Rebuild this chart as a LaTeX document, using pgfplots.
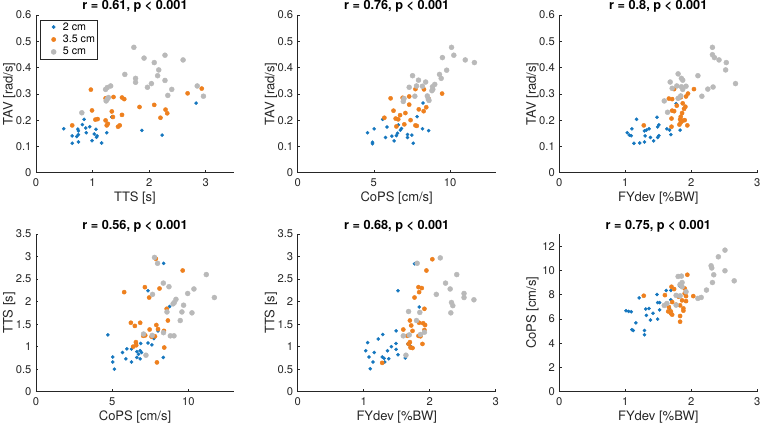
\documentclass[border=0pt]{standalone}
\usepackage{fontspec}
\setmainfont{TeX Gyre Heros}
\usepackage{pgfplots}
\pgfplotsset{compat=1.18}
\definecolor{cblue}{RGB}{20,118,190}
\definecolor{corange}{RGB}{238,128,30}
\definecolor{cgray}{RGB}{185,185,185}
\definecolor{axc}{RGB}{38,38,38}
\pgfplotsset{
 every axis title/.style={at={(0.5,1)}, anchor=base, yshift=5pt, font=\fontsize{12.7}{15}\selectfont\bfseries, text=black},
 every axis x label/.style={at={(axis description cs:0.5,-0.184)}, anchor=base, font=\fontsize{13}{15}\selectfont, text=axc},
 every axis y label/.style={at={(axis description cs:-0.118,0.5)}, rotate=90, anchor=base, font=\fontsize{13}{15}\selectfont, text=axc},
 base/.style={scale only axis, width=198pt, height=157.7pt,
  axis lines=left, axis line style={-, draw=axc, line width=0.55pt},
  tick style={draw=axc, line width=0.55pt}, tick align=inside, major tick length=2.5pt,
  tick label style={font=\fontsize{11.2}{13}\selectfont, text=axc},
  /pgf/number format/assume math mode=true,
  xticklabel style={anchor=base, yshift=-14pt},
  yticklabel style={anchor=east, xshift=-1pt},
  every axis plot/.append style={only marks},
 },
 sb/.style={mark=*, mark size=1.6pt, color=cblue},
 so/.style={mark=*, mark size=2.1pt, color=corange},
 sg/.style={mark=*, mark size=2.5pt, color=cgray},
}
\begin{document}
\begin{tikzpicture}
\path[use as bounding box] (0,0) rectangle (762pt,426pt);
% ---------- Plot 1
\begin{axis}[base, at={(36pt,253.3pt)}, anchor=south west,
  xmin=0, xmax=3.5, ymin=0, ymax=0.6, xtick={0,1,2,3}, ytick={0,0.1,0.2,0.3,0.4,0.5,0.6},
  xlabel={TTS [s]}, ylabel={TAV [rad/s]}, title={r = 0.61, p < 0.001},
  legend style={at={(0.02,0.97)}, anchor=north west, draw=axc, line width=0.5pt, inner sep=1.5pt, row sep=1.4pt,
    nodes={font=\fontsize{10.7}{12.5}\selectfont, inner sep=1pt, text=black}, cells={anchor=west}},
  legend image code/.code={\path[draw=none,fill=none] (0cm,-0.05cm) rectangle (0.71cm,0.05cm); \draw plot coordinates {(0.42cm,0cm)};}]
\addplot[sb] coordinates {(0.49,0.167)(0.64,0.140)(0.64,0.112)(0.74,0.166)(0.75,0.159)(0.72,0.138)(0.75,0.145)(0.75,0.117)(0.85,0.203)(0.82,0.183)(0.88,0.170)(0.89,0.152)(0.95,0.175)(0.99,0.122)(1.03,0.147)(1.06,0.165)(1.08,0.140)(1.07,0.135)(1.16,0.113)(1.25,0.152)(1.34,0.212)(1.87,0.161)(2.23,0.143)(2.83,0.265)};
\addplot[so] coordinates {(0.97,0.316)(0.64,0.180)(0.99,0.237)(1.05,0.202)(1.09,0.204)(1.23,0.283)(1.37,0.288)(1.52,0.286)(1.56,0.280)(1.34,0.233)(1.36,0.212)(1.23,0.199)(1.25,0.180)(1.27,0.186)(1.52,0.220)(1.48,0.180)(1.45,0.175)(1.83,0.250)(2.09,0.258)(2.29,0.240)(2.32,0.226)(2.20,0.209)(2.68,0.302)(2.93,0.320)};
\addplot[sg] coordinates {(1.73,0.477)(1.91,0.436)(2.28,0.447)(2.60,0.429)(2.09,0.419)(2.17,0.391)(1.57,0.374)(1.76,0.359)(1.76,0.344)(2.15,0.369)(2.28,0.351)(2.04,0.339)(1.97,0.325)(2.40,0.317)(2.33,0.294)(2.85,0.330)(2.96,0.291)(1.32,0.330)(1.26,0.324)(1.23,0.317)(1.26,0.280)(1.28,0.286)(1.24,0.273)(0.81,0.228)};
\legend{2 cm, 3.5 cm, 5 cm}
\end{axis}
% ---------- Plot 2
\begin{axis}[base, at={(297.7pt,253.3pt)}, anchor=south west,
  xmin=0, xmax=13, ymin=0, ymax=0.6, xtick={0,5,10}, ytick={0,0.1,0.2,0.3,0.4,0.5,0.6},
  xlabel={CoPS [cm/s]}, ylabel={TAV [rad/s]}, title={r = 0.76, p < 0.001}]
\addplot[sb] coordinates {(8.23,0.265)(5.58,0.203)(7.84,0.213)(5.02,0.167)(5.86,0.174)(6.61,0.182)(6.81,0.168)(6.74,0.162)(4.59,0.152)(6.55,0.150)(6.48,0.141)(6.18,0.139)(5.77,0.134)(7.21,0.145)(7.49,0.143)(7.21,0.134)(8.19,0.167)(8.60,0.160)(6.33,0.121)(4.91,0.116)(4.91,0.110)(7.59,0.112)};
\addplot[so] coordinates {(7.73,0.318)(8.29,0.317)(9.48,0.301)(6.10,0.283)(6.89,0.285)(6.96,0.282)(7.32,0.290)(8.44,0.249)(8.27,0.234)(7.95,0.241)(7.32,0.259)(6.29,0.236)(7.07,0.227)(6.72,0.219)(7.41,0.200)(6.60,0.203)(6.43,0.206)(5.69,0.209)(7.00,0.184)(7.73,0.180)(7.82,0.178)(6.48,0.176)(8.60,0.281)};
\addplot[sg] coordinates {(10.1,0.477)(10.25,0.447)(11.0,0.429)(11.6,0.419)(9.50,0.438)(9.78,0.390)(9.31,0.374)(9.42,0.359)(7.54,0.369)(7.93,0.352)(8.40,0.345)(9.0,0.336)(8.85,0.327)(8.87,0.317)(7.32,0.325)(7.80,0.330)(8.19,0.329)(8.51,0.292)(8.62,0.275)(7.69,0.291)(6.98,0.282)(6.93,0.271)(8.57,0.281)(8.81,0.312)};
\end{axis}
% ---------- Plot 3
\begin{axis}[base, at={(559.3pt,253.3pt)}, anchor=south west,
  xmin=0, xmax=3, ymin=0, ymax=0.6, xtick={0,1,2,3}, ytick={0,0.1,0.2,0.3,0.4,0.5,0.6},
  xlabel={FYdev [\%BW]}, ylabel={TAV [rad/s]}, title={r = 0.8, p < 0.001}]
\addplot[sb] coordinates {(1.77,0.263)(1.17,0.203)(1.48,0.211)(1.51,0.182)(1.49,0.174)(1.63,0.167)(1.67,0.162)(1.83,0.162)(1.69,0.145)(1.36,0.167)(1.29,0.159)(1.32,0.162)(1.10,0.167)(1.03,0.152)(1.06,0.143)(1.09,0.141)(1.30,0.140)(1.38,0.134)(1.51,0.141)(1.49,0.134)(1.43,0.121)(1.29,0.117)(1.22,0.113)(1.13,0.112)};
\addplot[so] coordinates {(2.04,0.318)(1.95,0.301)(1.92,0.290)(1.66,0.282)(1.71,0.280)(1.84,0.287)(1.74,0.318)(1.71,0.236)(1.74,0.234)(1.89,0.243)(1.91,0.251)(1.86,0.227)(1.84,0.213)(1.83,0.203)(1.87,0.198)(1.90,0.200)(1.94,0.180)(1.82,0.183)(1.84,0.191)(1.70,0.206)(1.70,0.175)(1.28,0.180)(1.78,0.255)(1.87,0.264)};
\addplot[sg] coordinates {(2.32,0.477)(2.32,0.449)(2.35,0.438)(2.42,0.429)(2.53,0.419)(2.52,0.391)(2.67,0.339)(2.33,0.326)(2.25,0.318)(2.10,0.369)(2.16,0.291)(1.80,0.376)(1.85,0.359)(1.87,0.352)(1.68,0.345)(1.78,0.330)(1.71,0.321)(1.85,0.327)(1.92,0.329)(1.87,0.317)(1.80,0.283)(1.84,0.292)(1.59,0.273)(1.64,0.230)};
\end{axis}
% ---------- Plot 4
\begin{axis}[base, at={(36pt,34.3pt)}, anchor=south west,
  xmin=0, xmax=13, ymin=0, ymax=3.5, xtick={0,5,10}, ytick={0,0.5,1,1.5,2,2.5,3,3.5},
  xlabel={CoPS [cm/s]}, ylabel={TTS [s]}, title={r = 0.56, p < 0.001}]
\addplot[sb] coordinates {(8.38,2.85)(7.35,2.24)(8.77,1.89)(4.72,1.26)(8.01,1.35)(7.74,1.18)(6.87,1.07)(6.58,1.07)(7.35,1.08)(7.61,1.04)(6.27,0.95)(5.97,0.95)(5.68,0.87)(6.62,0.89)(6.84,0.91)(6.73,0.83)(6.93,0.87)(6.62,0.76)(6.84,0.73)(5.90,0.73)(6.27,0.66)(5.04,0.77)(5.04,0.66)(5.15,0.50)(8.36,0.76)};
\addplot[so] coordinates {(7.87,2.95)(9.63,2.69)(7.15,2.32)(8.11,2.29)(5.79,2.21)(7.43,2.09)(8.58,1.84)(8.66,1.58)(6.23,1.53)(6.84,1.53)(6.49,1.46)(7.90,1.48)(7.46,1.38)(8.01,1.39)(8.40,1.35)(7.04,1.24)(7.17,1.25)(7.59,1.22)(7.81,1.23)(6.56,1.10)(6.38,1.00)(6.58,1.03)(8.42,0.98)(7.94,0.65)};
\addplot[sg] coordinates {(7.78,2.98)(7.98,2.85)(11.18,2.60)(11.71,2.09)(8.36,2.41)(8.73,2.33)(10.37,2.28)(9.96,2.18)(7.65,2.16)(9.19,2.05)(9.08,1.98)(9.0,1.95)(9.69,1.92)(8.60,1.77)(9.58,1.77)(10.24,1.75)(9.47,1.58)(7.06,1.28)(8.82,1.24)(9.06,1.24)(8.37,1.31)(7.63,1.25)(7.22,0.81)};
\end{axis}
% ---------- Plot 5
\begin{axis}[base, at={(297.7pt,34.3pt)}, anchor=south west,
  xmin=0, xmax=3, ymin=0, ymax=3.5, xtick={0,1,2,3}, ytick={0,0.5,1,1.5,2,2.5,3,3.5},
  xlabel={FYdev [\%BW]}, ylabel={TTS [s]}, title={r = 0.68, p < 0.001}]
\addplot[sb] coordinates {(1.77,2.84)(1.52,2.24)(1.84,1.88)(1.49,1.35)(1.29,1.27)(1.22,1.17)(1.06,1.09)(1.49,1.07)(1.42,1.00)(1.67,1.06)(1.70,1.02)(1.36,0.91)(1.49,0.94)(1.03,0.91)(1.16,0.87)(1.52,0.82)(1.08,0.77)(1.28,0.77)(1.31,0.74)(1.38,0.73)(1.63,0.75)(1.14,0.66)(1.32,0.66)(1.10,0.51)};
\addplot[so] coordinates {(2.04,2.94)(1.95,2.69)(1.83,2.32)(1.88,2.30)(1.84,2.21)(1.77,2.09)(1.92,1.84)(1.70,1.58)(1.84,1.53)(1.90,1.52)(1.93,1.48)(1.72,1.47)(1.60,1.38)(1.74,1.35)(1.92,1.37)(1.66,1.24)(1.83,1.24)(1.86,1.23)(1.70,1.10)(1.68,1.06)(1.71,0.98)(1.74,0.97)(1.89,1.06)(1.28,0.64)};
\addplot[sg] coordinates {(2.16,2.97)(1.81,2.85)(2.41,2.60)(2.24,2.41)(2.31,2.28)(2.10,2.16)(2.33,1.98)(2.35,1.91)(2.32,1.75)(2.52,2.18)(2.52,2.09)(2.67,2.04)(1.68,1.78)(1.85,1.76)(1.80,1.58)(1.60,1.24)(1.69,1.26)(1.92,1.32)(1.86,1.27)(1.64,0.81)};
\end{axis}
% ---------- Plot 6
\begin{axis}[base, at={(559.3pt,34.3pt)}, anchor=south west,
  xmin=0, xmax=3, ymin=0, ymax=13, xtick={0,1,2,3}, ytick={0,2,4,6,8,10,12},
  xlabel={FYdev [\%BW]}, ylabel={CoPS [cm/s]}, title={r = 0.75, p < 0.001}]
\addplot[sb] coordinates {(1.82,8.73)(1.48,8.02)(1.62,8.35)(1.69,8.35)(1.21,7.73)(1.69,7.58)(1.49,7.35)(1.52,7.35)(1.67,6.88)(1.52,6.74)(1.36,6.86)(1.31,6.81)(1.01,6.67)(1.05,6.62)(1.09,6.59)(1.42,6.46)(1.32,6.29)(1.49,5.99)(1.38,5.91)(1.16,5.68)(1.10,5.11)(1.12,5.05)(1.29,5.05)(1.29,4.69)};
\addplot[so] coordinates {(1.94,9.64)(1.70,8.65)(1.74,8.46)(1.90,8.51)(1.60,7.96)(1.28,7.91)(1.90,8.1)(1.92,7.88)(2.03,7.88)(1.81,7.83)(1.71,7.39)(1.86,7.53)(1.92,7.47)(1.77,7.17)(1.83,7.12)(1.66,6.98)(1.65,6.62)(1.88,6.87)(1.88,6.68)(1.69,6.62)(1.69,6.46)(1.71,6.35)(1.83,6.24)(1.83,5.77)};
\addplot[sg] coordinates {(2.51,11.67)(2.41,11.12)(2.30,10.38)(2.31,10.2)(2.34,9.64)(2.51,9.97)(2.65,9.14)(2.32,9.0)(2.23,8.38)(2.10,7.69)(2.15,7.77)(1.80,9.5)(1.85,9.53)(1.86,9.0)(1.86,8.65)(1.83,8.84)(1.92,8.24)(1.59,7.11)(1.63,7.27)(1.77,7.94)(1.83,7.9)(1.77,7.14)};
\end{axis}
\end{tikzpicture}
\end{document}
